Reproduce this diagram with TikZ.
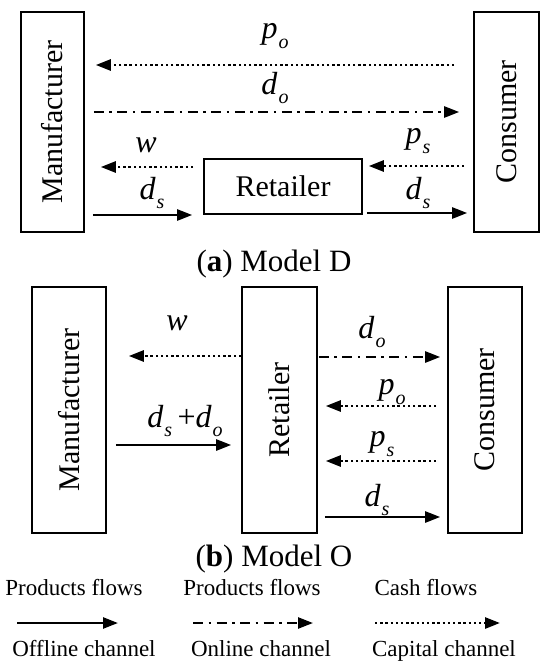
\documentclass[tikz,border=0pt]{standalone}
\usepackage{fontspec}
\setmainfont{Liberation Serif}
\usepackage{graphicx}
\usetikzlibrary{arrows.meta}
\newcommand{\flowvar}[2]{\textit{#1}\kern1pt\raisebox{-0.3em}{\fontsize{20}{20}\selectfont\textit{#2}}}

\begin{document}
\begin{tikzpicture}[x=1pt,y=-1pt,line width=1.6pt,
  box/.style={draw,line width=1.6pt,inner sep=0pt,font=\fontsize{30}{36}\selectfont},
  lbl/.style={inner sep=0pt,font=\fontsize{32}{36}\selectfont},
  subcap/.style={inner sep=0pt,font=\fontsize{31}{36}\selectfont},
  legend/.style={inner sep=0pt,anchor=base,font=\fontsize{23}{28}\selectfont},
  offline/.style={line width=2.4pt,-{Triangle[length=15pt,width=11pt]}},
  online/.style={offline,dash pattern=on 10pt off 5.5pt on 2.5pt off 5.5pt},
  cash/.style={offline,line width=2.6pt,dash pattern=on 2.4pt off 2.8pt}]
  \useasboundingbox (0,0) rectangle (550,670);

  % (a) Model D
  \node[box,minimum width=63pt,minimum height=220pt] (manA) at (52.5,122)
    {\rotatebox{90}{Manufacturer}};
  \node[box,minimum width=65pt,minimum height=220pt] (consA) at (506.5,122)
    {\rotatebox{90}{Consumer}};
  \node[box,minimum width=158pt,minimum height=55pt] (retA) at (283,186.5) {Retailer};

  \draw[cash,shorten <=19pt,shorten >=11pt] (consA.west |- 0,65) -- (manA.east |- 0,65);
  \draw[online,shorten <=9pt,shorten >=14pt] (manA.east |- 0,112) -- (consA.west |- 0,112);
  \draw[cash,shorten <=10pt,shorten >=16pt] (retA.west |- 0,167) -- (manA.east |- 0,167);
  \draw[offline,shorten <=8pt,shorten >=11pt] (manA.east |- 0,215) -- (retA.west |- 0,215);
  \draw[cash,shorten <=9pt,shorten >=6pt] (consA.west |- 0,166) -- (retA.east |- 0,166);
  \draw[offline,shorten <=4pt,shorten >=6pt] (retA.east |- 0,213) -- (consA.west |- 0,213);

  \node[lbl] (poA) at (275,36) {\flowvar{p}{o}};
  \node[lbl] (doA) at (275,88) {\flowvar{d}{o}};
  \node[lbl] (wA) at (146,145) {\textit{w}};
  \node[lbl] (dsA) at (152,193) {\flowvar{d}{s}};
  \node[lbl] (psA) at (418,141) {\flowvar{p}{s}};
  \node[lbl] (dsA2) at (418,193) {\flowvar{d}{s}};

  \node[subcap] (capA) at (274,264) {(\textbf{a}) Model D};

  % (b) Model O
  \node[box,minimum width=74pt,minimum height=246pt] (manB) at (69,410)
    {\rotatebox{90}{Manufacturer}};
  \node[box,minimum width=75pt,minimum height=246pt] (retB) at (279.5,410)
    {\rotatebox{90}{Retailer}};
  \node[box,minimum width=74pt,minimum height=246pt] (consB) at (485,410)
    {\rotatebox{90}{Consumer}};

  \draw[cash,shorten >=22pt] (retB.west |- 0,356) -- (manB.east |- 0,356);
  \draw[offline,shorten <=9pt,shorten >=10pt] (manB.east |- 0,445) -- (retB.west |- 0,445);
  \draw[online,shorten <=1pt,shorten >=7pt] (retB.east |- 0,357) -- (consB.west |- 0,357);
  \draw[cash,shorten <=11pt,shorten >=8pt] (consB.west |- 0,406) -- (retB.east |- 0,406);
  \draw[cash,shorten <=11pt,shorten >=8pt] (consB.west |- 0,461) -- (retB.east |- 0,461);
  \draw[offline,shorten <=7pt,shorten >=7pt] (retB.east |- 0,517) -- (consB.west |- 0,517);

  \node[lbl] (wB) at (177,323) {\textit{w}};
  \node[lbl] (dsdo) at (185,421) {\flowvar{d}{s}\,+\flowvar{d}{o}};
  \node[lbl] (doB) at (372,332) {\flowvar{d}{o}};
  \node[lbl] (poB) at (392,392) {\flowvar{p}{o}};
  \node[lbl] (psB) at (382,444) {\flowvar{p}{s}};
  \node[lbl] (dsB) at (377,500) {\flowvar{d}{s}};

  \node[subcap] (capB) at (274,559) {(\textbf{b}) Model O};

  % legend
  \node[legend] (pf1) at (74,595) {Products flows};
  \node[legend] (pf2) at (252,595) {Products flows};
  \node[legend] (cf) at (426,595) {Cash flows};
  \coordinate (off1) at (17,623);
  \coordinate (off2) at (118,623);
  \coordinate (on1) at (193,623);
  \coordinate (on2) at (313,623);
  \coordinate (cash1) at (375,623);
  \coordinate (cash2) at (500,623);
  \draw[offline] (off1) -- (off2);
  \draw[online] (on1) -- (on2);
  \draw[cash] (cash1) -- (cash2);
  \node[legend] (offc) at (84,656) {Offline channel};
  \node[legend] (onc) at (261,656) {Online channel};
  \node[legend] (capc) at (444,656) {Capital channel};
\end{tikzpicture}
\end{document}
